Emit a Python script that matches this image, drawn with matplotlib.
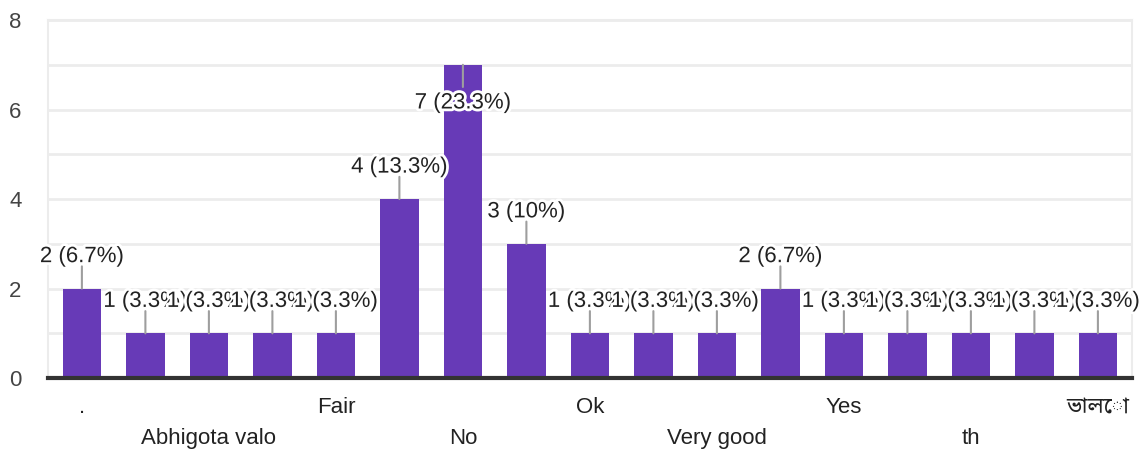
import matplotlib
matplotlib.use("Agg")
import matplotlib.pyplot as plt
import matplotlib.patheffects as pe

plt.rcParams['font.family'] = ['Liberation Sans', 'Noto Sans Bengali', 'DejaVu Sans']

# answers (only every other label is visible in the original chart)
tick_labels = [".", "", "Abhigota valo", "", "Fair", "", "No", "", "Ok", "",
               "Very good", "", "Yes", "", "th", "", "ভালো"]
counts = [2, 1, 1, 1, 1, 4, 7, 3, 1, 1, 1, 2, 1, 1, 1, 1, 1]

total = sum(counts)
x = list(range(len(counts)))
ymax = 8

fig = plt.figure(figsize=(11.41, 4.55), dpi=100)
ax = fig.add_axes([0.042, 0.169, 0.950, 0.787])

ax.bar(x, counts, width=0.61, color='#673ab7', zorder=3)

ax.set_xlim(-0.535, len(counts) - 0.465)
ax.set_ylim(0, ymax)
ax.set_yticks(range(0, ymax + 1, 2))
ax.set_yticks(range(0, ymax + 1), minor=True)
ax.grid(axis='y', which='both', color='#ececec', linewidth=2, zorder=0)
ax.tick_params(axis='y', which='both', length=0, pad=28, labelsize=16, labelcolor='#444444')
for lbl in ax.get_yticklabels():
    lbl.set_horizontalalignment('left')

# x labels alternate between two rows
shown = []
row = 0
for lab in tick_labels:
    if lab == "":
        shown.append("")
    else:
        shown.append(lab if row == 0 else "\n" + lab)
        row = 1 - row
ax.set_xticks(x)
ax.set_xticklabels(shown)
ax.tick_params(axis='x', length=0, pad=13.5, labelsize=16, labelcolor='#222222')
for lbl in ax.get_xticklabels():
    lbl.set_linespacing(1.62)

for side in ['left', 'right', 'top']:
    ax.spines[side].set_color('#ececec')
    ax.spines[side].set_linewidth(1.5)
ax.spines['bottom'].set_color('#333333')
ax.spines['bottom'].set_linewidth(3)
ax.spines['bottom'].set_zorder(4)

# value labels with leader lines
for i, v in enumerate(counts):
    pct = round(v / total * 100, 1)
    txt = f"{v} ({pct:g}%)"
    if v >= ymax - 1:
        line_off, text_off = -16, -27.5
    else:
        line_off, text_off = 16, 23
    ax.annotate('', xy=(i, v), xytext=(0, line_off), textcoords='offset points',
                arrowprops=dict(arrowstyle='-', color='#9e9e9e', lw=1.5,
                                shrinkA=0, shrinkB=0), zorder=5)
    ax.annotate(txt, xy=(i, v), xytext=(0, text_off), textcoords='offset points',
                ha='center', va='center', fontsize=16, color='#222222', zorder=6,
                path_effects=[pe.withStroke(linewidth=4, foreground='white')])

fig.savefig('out.png', dpi=100)
